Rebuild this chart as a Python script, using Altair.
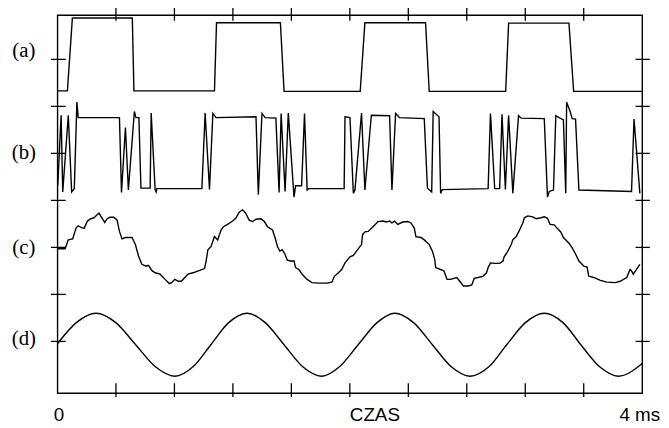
import altair as alt
import pandas as pd

# ---- time axis: 0 .. 4 ms ----
# trace (a): square wave (time ms, signal in divisions)
a_t = [0.0, 0.068, 0.102, 0.512, 0.523, 1.074, 1.088, 1.525, 1.550, 2.071, 2.103,
       2.518, 2.543, 3.066, 3.086, 3.499, 3.531, 4.0]
a_s = [-0.67, -0.67, 0.88, 0.88, -0.67, -0.67, 0.78, 0.78, -0.68, -0.68, 0.78,
       0.78, -0.68, -0.68, 0.77, 0.77, -0.68, -0.68]

# trace (b): noisy switched signal
b_t = [0.002, 0.025, 0.036, 0.074, 0.097, 0.115, 0.133, 0.142, 0.424, 0.438,
       0.465, 0.485, 0.526, 0.537, 0.557, 0.571, 0.634, 0.641, 0.668, 0.675,
       0.679, 0.988, 1.010, 1.040, 1.063, 1.085, 1.358, 1.374, 1.399, 1.421,
       1.494, 1.516, 1.530, 1.557, 1.579, 1.618, 1.629, 1.670, 1.690, 1.708,
       1.719, 1.961, 1.967, 2.001, 2.024, 2.035, 2.080, 2.103, 2.147, 2.272,
       2.288, 2.313, 2.340, 2.509, 2.531, 2.560, 2.570, 2.610, 2.621, 2.633,
       2.946, 2.962, 2.991, 3.025, 3.041, 3.064, 3.086, 3.115, 3.154, 3.172,
       3.330, 3.352, 3.364, 3.393, 3.409, 3.431, 3.461, 3.477, 3.483, 3.506,
       3.521, 3.544, 3.567, 3.927, 3.944, 3.984]
b_s = [-0.68, 0.81, -0.82, 0.81, -0.82, -0.75, 1.09, 0.76, 0.76, -0.83,
       0.55, -0.78, 0.89, 0.76, 0.76, -0.74, -0.74, 0.86, -0.77, -0.82,
       -0.75, -0.75, 0.86, -0.77, 0.85, 0.76, 0.78, -0.88, 0.85, 0.76,
       0.75, -0.83, 0.85, -0.81, 0.86, -0.93, -0.69, -0.69, 0.85, -0.78,
       -0.75, -0.75, 0.78, 0.76, -0.85, -0.78, 0.86, -0.78, 0.81, 0.80,
       -0.78, 0.85, 0.76, 0.74, -0.74, -0.82, 0.89, 0.78, -0.85, -0.77,
       -0.75, 0.85, -0.75, -0.75, 0.83, -0.77, 0.81, -0.85, 0.80, 0.75,
       0.74, -0.93, -0.81, -0.78, 0.80, 0.76, 0.71, -0.85, 1.09, 0.90,
       0.74, 0.73, -0.78, -0.81, 0.73, -0.85]

# trace (c): distorted sine
c_t = [0.002, 0.052, 0.074, 0.104, 0.127, 0.142, 0.164, 0.183, 0.205, 0.228,
       0.250, 0.273, 0.284, 0.307, 0.323, 0.340, 0.359, 0.386, 0.408, 0.424,
       0.442, 0.465, 0.510, 0.533, 0.555, 0.577, 0.607, 0.623, 0.645, 0.668,
       0.702, 0.736, 0.765, 0.780, 0.803, 0.826, 0.848, 0.871, 0.893, 0.927,
       0.973, 1.006, 1.017, 1.029, 1.051, 1.063, 1.074, 1.096, 1.119, 1.135,
       1.164, 1.198, 1.220, 1.243, 1.266, 1.288, 1.311, 1.335, 1.358, 1.392,
       1.415, 1.437, 1.471, 1.489, 1.505, 1.521, 1.538, 1.557, 1.572, 1.595,
       1.618, 1.629, 1.651, 1.674, 1.708, 1.741, 1.787, 1.843, 1.877, 1.895,
       1.922, 1.944, 1.967, 2.001, 2.024, 2.057, 2.080, 2.087, 2.103, 2.125,
       2.159, 2.193, 2.227, 2.249, 2.272, 2.288, 2.306, 2.328, 2.362, 2.396,
       2.418, 2.441, 2.452, 2.486, 2.509, 2.543, 2.565, 2.581, 2.587, 2.621,
       2.644, 2.665, 2.687, 2.732, 2.755, 2.777, 2.811, 2.834, 2.851, 2.878,
       2.912, 2.935, 2.946, 2.962, 2.991, 3.025, 3.048, 3.054, 3.081, 3.104,
       3.115, 3.138, 3.161, 3.183, 3.194, 3.217, 3.251, 3.274, 3.308, 3.330,
       3.352, 3.370, 3.398, 3.420, 3.443, 3.461, 3.499, 3.521, 3.544, 3.567,
       3.601, 3.623, 3.634, 3.668, 3.714, 3.758, 3.815, 3.849, 3.894, 3.917,
       3.927, 3.939, 3.961, 3.984]
c_s = [-0.03, -0.03, 0.16, 0.18, 0.41, 0.46, 0.42, 0.41, 0.56, 0.61,
       0.63, 0.70, 0.73, 0.61, 0.53, 0.61, 0.64, 0.64, 0.58, 0.34,
       0.18, 0.21, 0.21, 0.06, -0.19, -0.36, -0.40, -0.38, -0.49, -0.54,
       -0.57, -0.68, -0.77, -0.75, -0.68, -0.72, -0.72, -0.64, -0.57, -0.54,
       -0.49, -0.45, -0.29, -0.05, 0.02, 0.13, 0.23, 0.16, 0.37, 0.44,
       0.49, 0.56, 0.62, 0.75, 0.80, 0.73, 0.58, 0.55, 0.60, 0.61,
       0.55, 0.44, 0.37, 0.20, 0.02, -0.08, -0.05, -0.15, -0.27, -0.29,
       -0.29, -0.43, -0.47, -0.57, -0.68, -0.75, -0.76, -0.76, -0.74, -0.61,
       -0.54, -0.47, -0.33, -0.20, -0.17, -0.03, 0.06, 0.27, 0.33, 0.34,
       0.44, 0.55, 0.56, 0.54, 0.56, 0.52, 0.56, 0.49, 0.54, 0.55,
       0.52, 0.41, 0.23, 0.21, 0.16, 0.06, -0.08, -0.26, -0.43, -0.47,
       -0.50, -0.68, -0.68, -0.64, -0.73, -0.82, -0.82, -0.80, -0.66, -0.64,
       -0.61, -0.54, -0.43, -0.33, -0.34, -0.34, -0.29, -0.21, -0.08, 0.06,
       0.16, 0.23, 0.37, 0.52, 0.63, 0.67, 0.65, 0.61, 0.63, 0.65,
       0.62, 0.49, 0.48, 0.40, 0.33, 0.21, 0.09, -0.01, -0.14, -0.29,
       -0.40, -0.42, -0.61, -0.64, -0.70, -0.74, -0.75, -0.72, -0.64, -0.47,
       -0.50, -0.57, -0.47, -0.36]

# trace (d): clean sine (read at peaks, troughs and between)
d_t = [0.0, 0.129, 0.264, 0.399, 0.535, 0.670, 0.803, 0.927, 1.049, 1.171,
       1.299, 1.421, 1.550, 1.678, 1.807, 1.929, 2.057, 2.186, 2.308, 2.436,
       2.565, 2.694, 2.822, 2.951, 3.073, 3.201, 3.330, 3.458, 3.580, 3.709,
       3.837, 4.0]
d_s = [-0.05, 0.40, 0.60, 0.40, -0.07, -0.54, -0.74, -0.54, -0.07, 0.40,
       0.60, 0.40, -0.07, -0.54, -0.74, -0.54, -0.07, 0.40, 0.60, 0.40,
       -0.07, -0.54, -0.74, -0.54, -0.07, 0.40, 0.60, 0.40, -0.07, -0.54,
       -0.74, -0.47]

trace_names = ["a", "b", "c", "d"]
trace_offsets = [7, 5, 3, 1]

x_ticks = [0.4, 0.8, 1.2, 1.6, 2.0, 2.4, 2.8, 3.2, 3.6]
y_ticks = [1, 2, 3, 4, 5, 6, 7]

panel_labels = ["(a)", "(b)", "(c)", "(d)"]
panel_label_y = [7.05, 4.88, 2.85, 0.93]

bottom_labels = ["0", "CZAS", "4 ms"]
bottom_label_t = [0.0, 2.0, 4.0]

# ---- build tables ----
rows = []
for name, off, ts, ss in zip(trace_names, trace_offsets,
                              [a_t, b_t, c_t, d_t], [a_s, b_s, c_s, d_s]):
    for i, (t, s) in enumerate(zip(ts, ss)):
        rows.append({"trace": name, "i": i, "t": t, "v": s + off})
df = pd.DataFrame(rows)
df_lin = df[df.trace != "d"]
df_sine = df[df.trace == "d"]

xs = alt.Scale(domain=[0, 4], nice=False, zero=False)
ys = alt.Scale(domain=[-0.1, 7.94], nice=False, zero=False)

W, H = 591, 382

lines = alt.Chart(df_lin).mark_line(color="black", strokeWidth=1.4).encode(
    x=alt.X("t:Q", scale=xs, axis=None),
    y=alt.Y("v:Q", scale=ys, axis=None),
    detail="trace:N",
    order="i:Q",
)
sine = alt.Chart(df_sine).mark_line(color="black", strokeWidth=1.4,
                                    interpolate="monotone").encode(
    x=alt.X("t:Q", scale=xs, axis=None),
    y=alt.Y("v:Q", scale=ys, axis=None),
    order="i:Q",
)

xt = pd.DataFrame({"t": x_ticks})
yt = pd.DataFrame({"v": y_ticks})

top_ticks = alt.Chart(xt).mark_rule(color="black", strokeWidth=1.3).encode(
    x=alt.X("t:Q", scale=xs, axis=None), y=alt.value(-8.5), y2=alt.value(5.7))
bot_ticks = alt.Chart(xt).mark_rule(color="black", strokeWidth=1.3).encode(
    x=alt.X("t:Q", scale=xs, axis=None), y=alt.value(372), y2=alt.value(386))
left_ticks = alt.Chart(yt).mark_rule(color="black", strokeWidth=1.3).encode(
    y=alt.Y("v:Q", scale=ys, axis=None), x=alt.value(-6.6), x2=alt.value(8.4))
right_ticks = alt.Chart(yt).mark_rule(color="black", strokeWidth=1.3).encode(
    y=alt.Y("v:Q", scale=ys, axis=None), x=alt.value(584.3), x2=alt.value(598.7))

pl = pd.DataFrame({"label": panel_labels, "v": panel_label_y})
panel_text = alt.Chart(pl).mark_text(font="Liberation Serif", fontSize=21,
                                     align="center", baseline="alphabetic",
                                     color="black").encode(
    x=alt.value(-34), y=alt.Y("v:Q", scale=ys, axis=None), text="label:N")

bl = pd.DataFrame({"label": bottom_labels, "t": bottom_label_t})
def bottom_text(idx, align, dx):
    return alt.Chart(bl.iloc[[idx]]).mark_text(
        font="Liberation Sans", fontSize=19, align=align, baseline="alphabetic",
        color="black", dx=dx).encode(
        x=alt.X("t:Q", scale=xs, axis=None), y=alt.value(410), text="label:N")

chart = alt.layer(
    lines, sine, top_ticks, bot_ticks, left_ticks, right_ticks, panel_text,
    bottom_text(0, "center", 1.5), bottom_text(1, "left", 0),
    bottom_text(2, "center", -2.5),
).properties(
    width=W, height=H,
    padding={"left": 50, "top": 5, "right": 19, "bottom": 33},
    autosize=alt.AutoSizeParams(type="none"),
    background="white",
).configure_view(stroke="black", strokeWidth=1.4)

chart.save("out.html", embed_options={"renderer": "svg", "actions": False})
